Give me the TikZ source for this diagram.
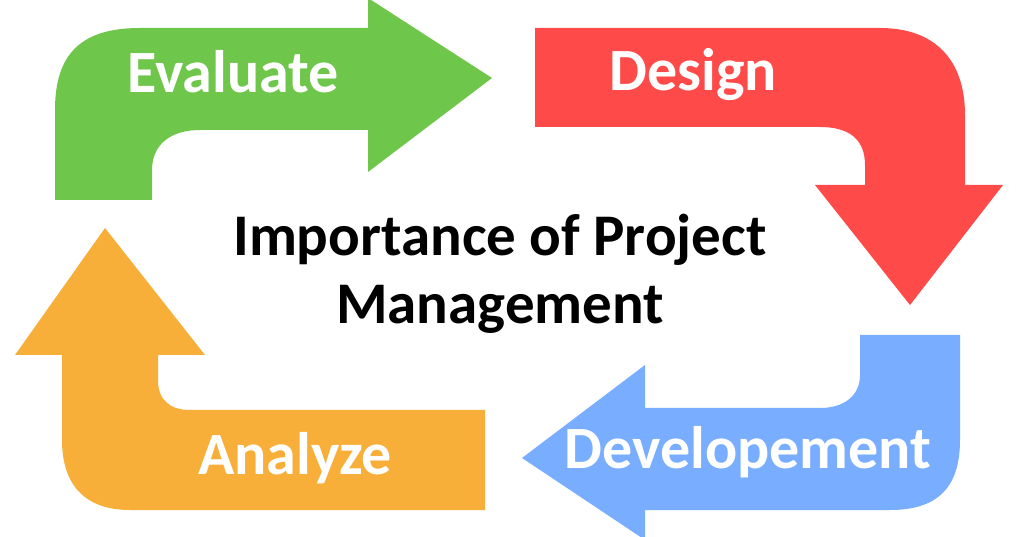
\documentclass[tikz,border=0pt]{standalone}
\usepackage{fontspec}
\setmainfont{Carlito}
\begin{document}
\begin{tikzpicture}[x=1pt,y=-1pt,
  lbl/.style={text=white,font=\bfseries\fontsize{60}{66}\selectfont,inner sep=0pt},
  ttl/.style={text=black,font=\bfseries\fontsize{59}{68}\selectfont,align=center,inner sep=0pt}]
\definecolor{cg}{HTML}{6EC64B}
\definecolor{cr}{HTML}{FF4A4A}
\definecolor{cb}{HTML}{78ADFF}
\definecolor{co}{HTML}{F8AF3A}
\useasboundingbox (0,0) rectangle (1021,537);
\fill[white] (0,0) rectangle (1021,537);
% green
\fill[cg] (152,200) -- (55,200) -- (55,110) .. controls (55,55) and (80,28) .. (140,28) -- (368,28) -- (368,-2) -- (492,78) -- (368,172) -- (368,130) -- (200,130) .. controls (170,130) and (152,145) .. (152,170) -- cycle;
% red
\fill[cr] (535,28) -- (880,28) .. controls (935,28) and (965,60) .. (965,115) -- (965,185) -- (1003,185) -- (910,305) -- (815,185) -- (865,185) -- (865,165) .. controls (865,140) and (850,127) .. (820,127) -- (535,127) -- cycle;
% blue
\fill[cb] (860,335) -- (960,335) -- (960,440) .. controls (960,490) and (935,510) .. (890,510) -- (645,510) -- (645,540) -- (522,458) -- (645,365) -- (645,408) -- (820,408) .. controls (845,408) and (860,395) .. (860,375) -- cycle;
% orange
\fill[co] (485,410) -- (485,510) -- (130,510) .. controls (85,510) and (62,485) .. (62,440) -- (62,355) -- (15,355) -- (105,228) -- (205,355) -- (158,355) -- (158,380) .. controls (158,400) and (170,410) .. (190,410) -- cycle;
\node[lbl] (ev) at (233,72) {Evaluate};
\node[lbl] (de) at (693,75) {Design};
\node[lbl] (dv) at (748,452) {Developement};
\node[lbl] (an) at (295,458) {Analyze};
\node[ttl] (t) at (500,274) {Importance of Project\\Management};
\end{tikzpicture}
\end{document}
